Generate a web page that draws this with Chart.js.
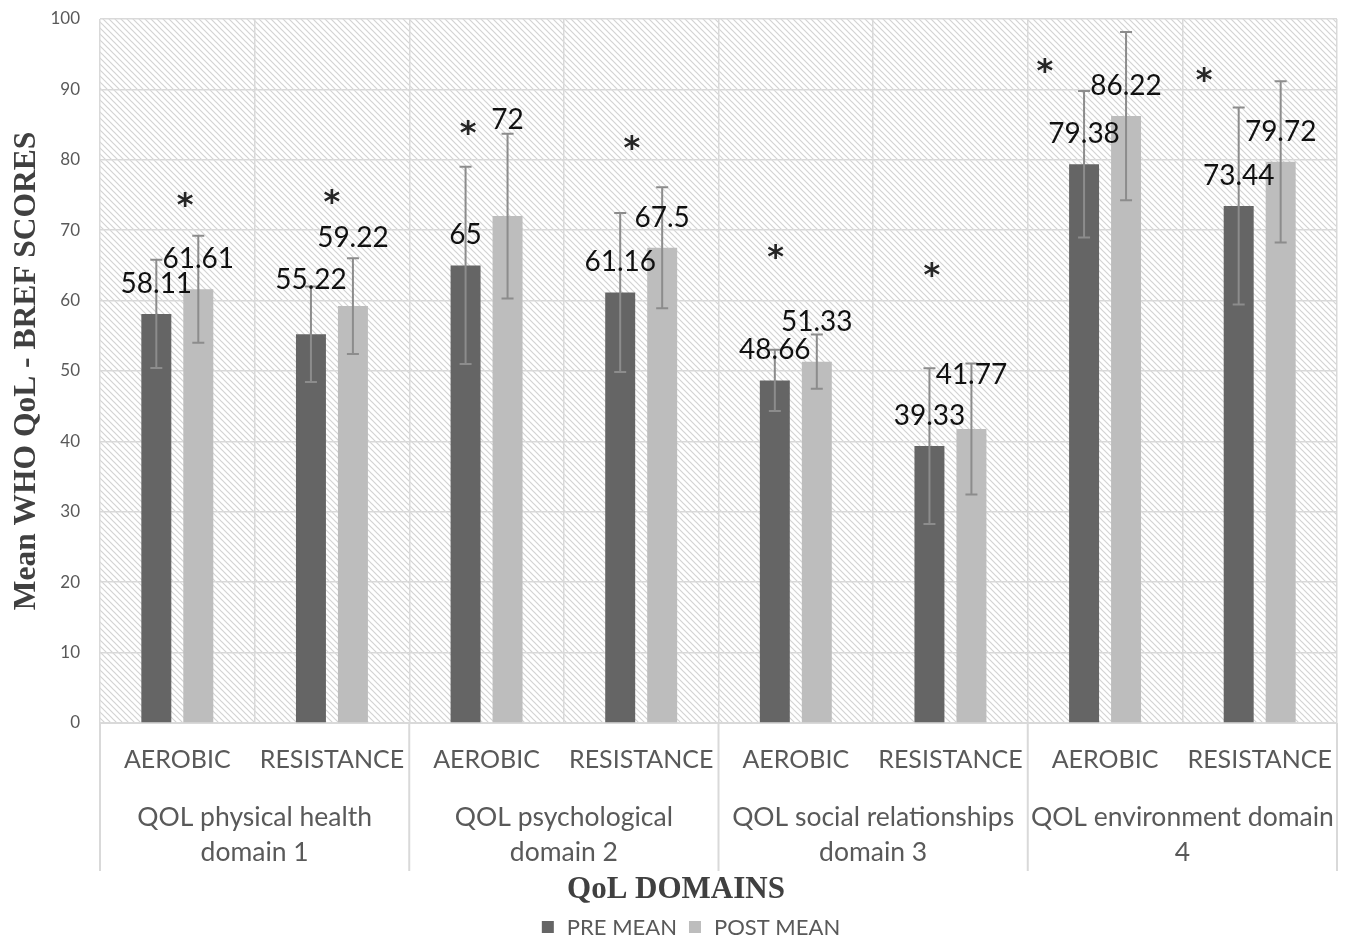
<!DOCTYPE html>
<html>
<head>
<meta charset="utf-8">
<script src="https://cdn.jsdelivr.net/npm/chart.js@4.4.1/dist/chart.umd.min.js"></script>
<style>
  html, body { margin: 0; padding: 0; background: #fff; }
  #wrap { width: 1350px; height: 941px; }
</style>
</head>
<body>
<div id="wrap"><canvas id="qolChart"></canvas></div>
<script>
// categories (two-level axis)
const groups = [['QOL physical health', 'domain 1'], ['QOL psychological', 'domain 2'], ['QOL social relationships', 'domain 3'], ['QOL environment domain', '4']];
const exercise = ['AEROBIC', 'RESISTANCE', 'AEROBIC', 'RESISTANCE', 'AEROBIC', 'RESISTANCE', 'AEROBIC', 'RESISTANCE'];

// means and SD (error bars)
const preMean  = [58.11, 55.22, 65, 61.16, 48.66, 39.33, 79.38, 73.44];
const postMean = [61.61, 59.22, 72, 67.5, 51.33, 41.77, 86.22, 79.72];
const preSD  = [7.7, 6.8, 14.0, 11.3, 4.35, 11.05, 10.4, 14.0];
const postSD = [7.6, 6.8, 11.7, 8.6, 3.85, 9.3, 11.95, 11.45];

// significance markers (y value where the * sits)
const starAt = [73.9, 74.3, 84.2, 82, 66.5, 64, 93, 91.6];

const yTicks = [0, 10, 20, 30, 40, 50, 60, 70, 80, 90, 100];

// layout tweaks for labels (px), kept apart from the data
const starShift = [0.05, 0, -0.12, -0.06, -0.13, -0.12, -0.39, -0.36]; // fraction of category width
const preLift  = [0, 24, 0, 0, 0, 0, 0, 0];
const postLift = [0, 38, 66, 0, 10, 24, 0, 0];

const PRE_COLOR = '#656565';
const POST_COLOR = '#bdbdbd';

// diagonal hatch for the plot area
function makeHatch(ctx) {
  const c = document.createElement('canvas');
  c.width = 6; c.height = 6;
  const g = c.getContext('2d');
  g.fillStyle = '#ffffff';
  g.fillRect(0, 0, 6, 6);
  g.strokeStyle = '#d3d3d3';
  g.lineWidth = 1.2;
  g.beginPath();
  g.moveTo(0, 0); g.lineTo(6, 6);
  g.moveTo(-3, 3); g.lineTo(3, 9);
  g.moveTo(3, -3); g.lineTo(9, 3);
  g.stroke();
  return ctx.createPattern(c, 'repeat');
}

const hatchBg = {
  id: 'hatchBg',
  beforeDraw(chart) {
    const { ctx, chartArea: a } = chart;
    ctx.save();
    ctx.fillStyle = makeHatch(ctx);
    ctx.fillRect(a.left, a.top, a.right - a.left, a.bottom - a.top);
    ctx.restore();
  }
};

const errorBars = {
  id: 'errorBars',
  afterDatasetsDraw(chart) {
    const { ctx } = chart;
    const y = chart.scales.y;
    const sds = [preSD, postSD];
    ctx.save();
    ctx.strokeStyle = '#8c8c8c';
    ctx.lineWidth = 2;
    chart.data.datasets.forEach((ds, di) => {
      chart.getDatasetMeta(di).data.forEach((bar, i) => {
        const v = ds.data[i], sd = sds[di][i];
        const top = y.getPixelForValue(v + sd), bot = y.getPixelForValue(v - sd);
        ctx.beginPath();
        ctx.moveTo(bar.x, top); ctx.lineTo(bar.x, bot);
        ctx.moveTo(bar.x - 6, top); ctx.lineTo(bar.x + 6, top);
        ctx.moveTo(bar.x - 6, bot); ctx.lineTo(bar.x + 6, bot);
        ctx.stroke();
      });
    });
    ctx.restore();
  }
};

const labelsAndStars = {
  id: 'labelsAndStars',
  afterDatasetsDraw(chart) {
    const { ctx } = chart;
    const x = chart.scales.x, y = chart.scales.y;
    const lifts = [preLift, postLift];
    ctx.save();
    ctx.fillStyle = '#111';
    ctx.font = '28px Lato';
    ctx.textAlign = 'center';
    ctx.textBaseline = 'middle';
    chart.data.datasets.forEach((ds, di) => {
      chart.getDatasetMeta(di).data.forEach((bar, i) => {
        ctx.fillText(String(ds.data[i]), bar.x, bar.y - 30 - lifts[di][i]);
      });
    });
    const cw = x.getPixelForValue(1) - x.getPixelForValue(0);
    ctx.font = 'bold 32px "DejaVu Sans"';
    ctx.fillStyle = '#262626';
    starAt.forEach((v, i) => {
      ctx.fillText('*', x.getPixelForValue(i) + starShift[i] * cw, y.getPixelForValue(v) + 4);
    });
    ctx.restore();
  }
};

// second axis row, separators, axis title and legend
const groupAxis = {
  id: 'groupAxis',
  afterDraw(chart) {
    const { ctx, chartArea: a } = chart;
    const x = chart.scales.x;
    const half = (x.getPixelForValue(1) - x.getPixelForValue(0)) / 2;
    ctx.save();
    ctx.strokeStyle = '#d9d9d9';
    ctx.lineWidth = 2;
    ctx.beginPath();
    for (let g = 0; g <= groups.length; g++) {
      const px = g < groups.length ? x.getPixelForValue(g * 2) - half : a.right;
      ctx.moveTo(px, a.bottom); ctx.lineTo(px, 871);
    }
    ctx.stroke();
    ctx.fillStyle = '#595959';
    ctx.font = '26.5px Lato';
    ctx.textAlign = 'center';
    ctx.textBaseline = 'middle';
    groups.forEach((lines, g) => {
      const cx = (x.getPixelForValue(g * 2) + x.getPixelForValue(g * 2 + 1)) / 2;
      lines.forEach((t, k) => ctx.fillText(t, cx, 817 + k * 35));
    });

    ctx.fillStyle = '#404040';
    ctx.font = 'bold 31px "Liberation Serif"';
    ctx.fillText('QoL DOMAINS', 676, 890);

    // legend
    ctx.font = '22px Lato';
    ctx.textAlign = 'left';
    const items = chart.data.datasets.map(d => ({ text: d.label, color: d.backgroundColor }));
    const box = 12, gapText = 13, gapItem = 12;
    const widths = items.map(it => box + gapText + ctx.measureText(it.text).width);
    const total = widths.reduce((s, w) => s + w, 0) + gapItem * (items.length - 1);
    let cx = 691 - total / 2;
    items.forEach((it, i) => {
      ctx.fillStyle = it.color;
      ctx.fillRect(cx, 927 - box / 2, box, box);
      ctx.fillStyle = '#595959';
      ctx.fillText(it.text, cx + box + gapText, 928);
      cx += widths[i] + gapItem;
    });
    ctx.restore();
  }
};

const ctx = document.getElementById('qolChart').getContext('2d');
const qolChart = new Chart(ctx, {
  type: 'bar',
  data: {
    labels: exercise,
    datasets: [{
      label: 'PRE MEAN',
      data: preMean,
      backgroundColor: PRE_COLOR
    }, {
      label: 'POST MEAN',
      data: postMean,
      backgroundColor: POST_COLOR
    }]
  },
  options: {
    responsive: true,
    maintainAspectRatio: false,
    animation: false,
    layout: { padding: { left: 0, right: 13, top: 19, bottom: 0 } },
    datasets: { bar: { categoryPercentage: 0.543, barPercentage: 0.714 } },
    plugins: {
      tooltip: { enabled: false },
      legend: { display: false }
    },
    scales: {
      x: {
        grid: { color: '#d9d9d9', lineWidth: 1.5, drawTicks: false },
        border: { display: true, color: '#d9d9d9' },
        ticks: { color: '#595959', font: { family: 'Lato', size: 25 }, padding: 22, maxRotation: 0, autoSkip: false },
        afterFit(s) { s.height = 218; s.paddingLeft = 0; s.paddingRight = 0; }
      },
      y: {
        min: 0,
        max: 100,
        afterBuildTicks(s) { s.ticks = yTicks.map(v => ({ value: v })); },
        grid: { color: '#d9d9d9', lineWidth: 1.5, drawTicks: false },
        border: { display: false },
        ticks: { color: '#595959', font: { family: 'Lato', size: 17 }, padding: 20 },
        title: {
          display: true,
          text: 'Mean WHO QoL - BREF SCORES',
          color: '#404040',
          font: { family: 'Liberation Serif', size: 31.5, weight: 'bold' },
          padding: { top: 8, bottom: 0 }
        },
        afterFit(s) { s.width = 100; s.paddingTop = 0; s.paddingBottom = 0; }
      }
    }
  },
  plugins: [hatchBg, errorBars, labelsAndStars, groupAxis]
});
</script>
</body>
</html>
